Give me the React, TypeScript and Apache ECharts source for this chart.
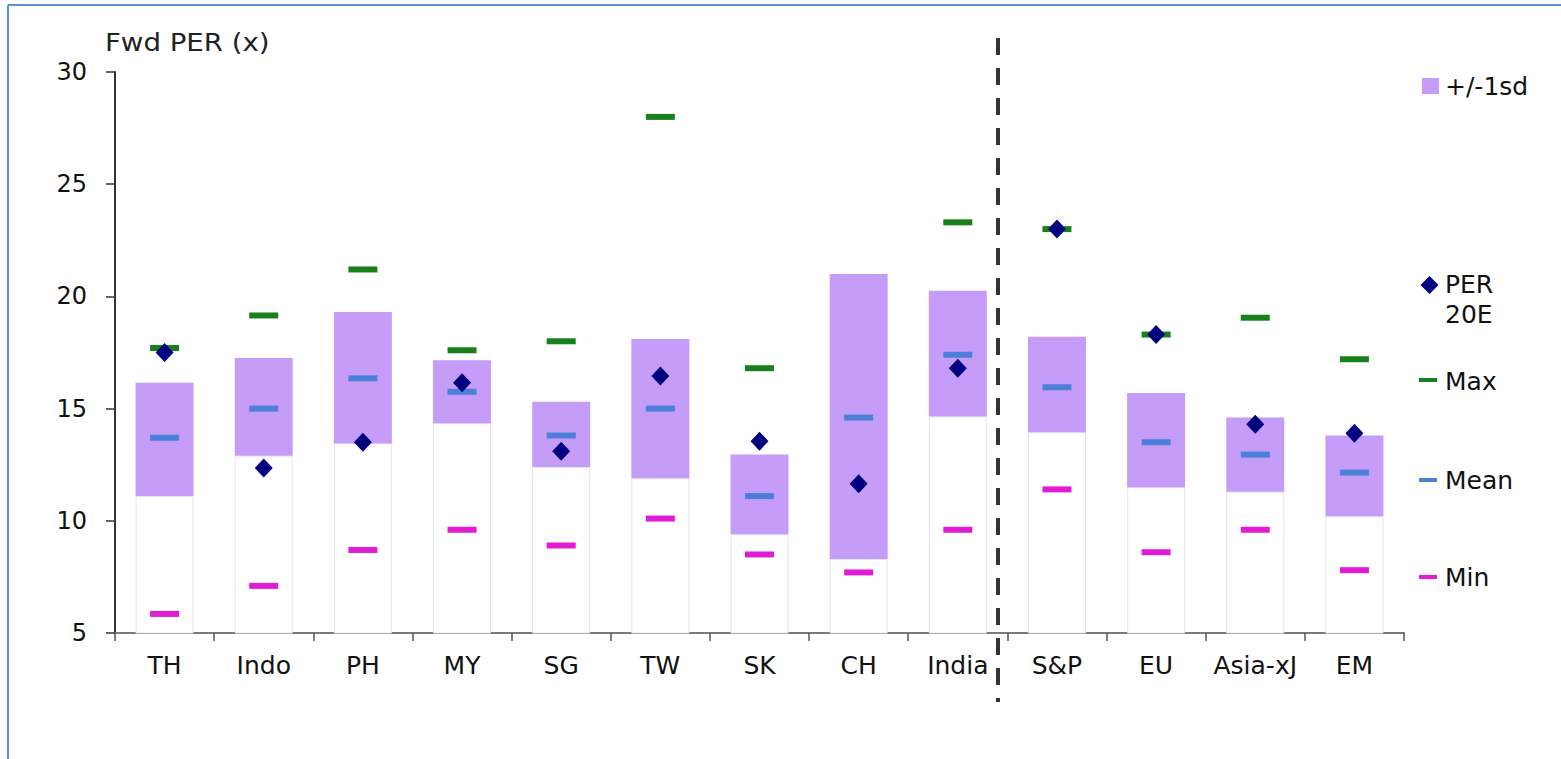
import React, { useEffect, useRef } from "react";
import * as echarts from "echarts";

const categories = ["TH", "Indo", "PH", "MY", "SG", "TW", "SK", "CH", "India", "S&P", "EU", "Asia-xJ", "EM"];
const sdLow = [11.1, 12.9, 13.45, 14.35, 12.4, 11.9, 9.4, 8.3, 14.65, 13.95, 11.5, 11.3, 10.2];
const sdHigh = [16.15, 17.25, 19.3, 17.15, 15.3, 18.1, 12.95, 21.0, 20.25, 18.2, 15.7, 14.6, 13.8];
const meanVals = [13.7, 15.0, 16.35, 15.75, 13.8, 15.0, 11.1, 14.6, 17.4, 15.95, 13.5, 12.95, 12.15];
const maxVals: (number | null)[] = [17.7, 19.15, 21.2, 17.6, 18.0, 28.0, 16.8, null, 23.3, 23.0, 18.3, 19.05, 17.2];
const minVals = [5.85, 7.1, 8.7, 9.6, 8.9, 10.1, 8.5, 7.7, 9.6, 11.4, 8.6, 9.6, 7.8];
const per20E = [17.5, 12.35, 13.5, 16.15, 13.1, 16.45, 13.55, 11.65, 16.8, 23.0, 18.3, 14.3, 13.9];
const yMin = 5;
const yMax = 30;
const yInterval = 5;

const sdRange = sdHigh.map((h, i) => +(h - sdLow[i]).toFixed(2));

const PURPLE = "#c69cf9";
const GREEN = "#17801a";
const BLUE = "#4b7fd8";
const MAGENTA = "#e21cd6";
const NAVY = "#000080";
const FONT = "DejaVu Sans";

export default function App() {
  const ref = useRef<HTMLDivElement>(null);
  useEffect(() => {
    if (!ref.current) return;
    const chart = echarts.init(ref.current, null, { renderer: "svg" });
    const lineSym = (color: string) => ({
      type: "scatter",
      symbol: "rect",
      symbolSize: [29, 6],
      itemStyle: { color, opacity: 1 },
      z: 5,
    });
    chart.setOption({
      animation: false,
      backgroundColor: "#ffffff",
      grid: { left: 115, right: 157, top: 72, bottom: 126, containLabel: false },
      xAxis: {
        type: "category",
        data: categories,
        boundaryGap: true,
        axisLine: { lineStyle: { color: "#7a7a7a", width: 2 } },
        axisTick: { show: true, length: 8, lineStyle: { color: "#555", width: 1.5 } },
        axisLabel: { color: "#111", fontSize: 25, fontFamily: FONT, margin: 20, interval: 0 },
        splitLine: { show: false },
      },
      yAxis: {
        type: "value",
        min: yMin,
        max: yMax,
        interval: yInterval,
        axisLine: { show: true, lineStyle: { color: "#333", width: 2 } },
        axisTick: { show: true, inside: false, length: 9, lineStyle: { color: "#333", width: 1.5 } },
        axisLabel: { color: "#111", fontSize: 24, fontFamily: FONT, margin: 28 },
        splitLine: { show: false },
      },
      series: [
        {
          type: "bar",
          name: "base",
          stack: "sd",
          data: sdLow,
          barWidth: 58,
          itemStyle: { color: "#ffffff", borderColor: "#e4e4ec", borderWidth: 1 },
          z: 2,
        },
        {
          type: "bar",
          name: "+/-1sd",
          stack: "sd",
          data: sdRange,
          barWidth: 58,
          itemStyle: { color: PURPLE },
          z: 2,
        },
        { ...lineSym(GREEN), name: "Max", data: maxVals.map((v) => (v === null ? "-" : v)) },
        { ...lineSym(BLUE), name: "Mean", data: meanVals },
        { ...lineSym(MAGENTA), name: "Min", data: minVals },
        {
          type: "scatter",
          name: "PER 20E",
          symbol: "diamond",
          symbolSize: [18, 19],
          itemStyle: { color: NAVY, opacity: 1 },
          data: per20E,
          z: 6,
        },
      ],
      graphic: [
        // frame
        { type: "line", shape: { x1: 8, y1: 5, x2: 1561, y2: 5 }, style: { stroke: "#5b8fd8", lineWidth: 2 } },
        { type: "line", shape: { x1: 8, y1: 5, x2: 8, y2: 759 }, style: { stroke: "#5b8fd8", lineWidth: 2 } },
        // title
        {
          type: "text",
          x: 105,
          y: 43,
          scaleX: 1.15,
          style: { text: "Fwd PER (x)", fontSize: 24, fontFamily: FONT, fill: "#222", verticalAlign: "middle", align: "left" },
        },
        // dashed separator
        {
          type: "line",
          shape: { x1: 998, y1: 38, x2: 998, y2: 702 },
          style: { stroke: "#333", lineWidth: 4, lineDash: [17, 13] },
          z: 10,
        },
        // legend
        { type: "rect", shape: { x: 1422, y: 78, width: 17, height: 16 }, style: { fill: PURPLE } },
        { type: "text", x: 1445, y: 86, style: { text: "+/-1sd", fontSize: 25, fontFamily: FONT, fill: "#111", verticalAlign: "middle" } },
        {
          type: "polygon",
          shape: { points: [[1429.5, 276], [1438.5, 285], [1429.5, 294], [1420.5, 285]] },
          style: { fill: NAVY },
        },
        { type: "text", x: 1445, y: 284, style: { text: "PER", fontSize: 25, fontFamily: FONT, fill: "#111", verticalAlign: "middle" } },
        { type: "text", x: 1445, y: 314, style: { text: "20E", fontSize: 25, fontFamily: FONT, fill: "#111", verticalAlign: "middle" } },
        { type: "rect", shape: { x: 1419, y: 378, width: 18, height: 4 }, style: { fill: GREEN } },
        { type: "text", x: 1445, y: 381, style: { text: "Max", fontSize: 25, fontFamily: FONT, fill: "#111", verticalAlign: "middle" } },
        { type: "rect", shape: { x: 1419, y: 478, width: 18, height: 4 }, style: { fill: BLUE } },
        { type: "text", x: 1445, y: 480, style: { text: "Mean", fontSize: 25, fontFamily: FONT, fill: "#111", verticalAlign: "middle" } },
        { type: "rect", shape: { x: 1419, y: 575, width: 18, height: 4 }, style: { fill: MAGENTA } },
        { type: "text", x: 1445, y: 577, style: { text: "Min", fontSize: 25, fontFamily: FONT, fill: "#111", verticalAlign: "middle" } },
      ],
    });
    return () => chart.dispose();
  }, []);
  return (
    <div
      ref={ref}
      style={{ position: "fixed", left: 0, top: 0, width: 1561, height: 759, background: "#fff" }}
    />
  );
}
